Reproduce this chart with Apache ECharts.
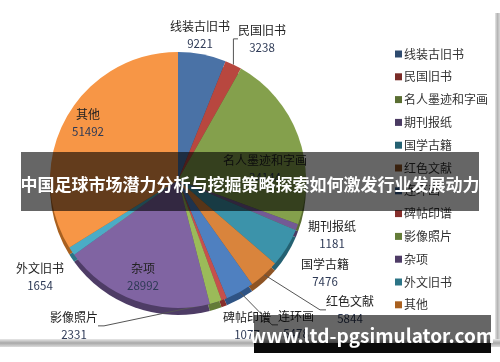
<!DOCTYPE html>
<html>
<head>
<meta charset="utf-8">
<script src="https://cdn.jsdelivr.net/npm/echarts@6/dist/echarts.min.js"></script>
<style>
html,body{margin:0;padding:0;background:#fff;}
#c{width:500px;height:362px;}
</style>
</head>
<body>
<div id="c"></div>
<script>
const categories = ['线装古旧书','民国旧书','名人墨迹和字画','期刊报纸','国学古籍','红色文献','连环画','碑帖印谱','影像照片','杂项','外文旧书','其他'];
const values = [9221, 3238, 34144, 1181, 7476, 5844, 5478, 1077, 2331, 28992, 1654, 51492];
const colors = ['#4A72A6','#B8473F','#84A04C','#735A95','#3C93AA','#D9843C','#4F80C0','#C6504C','#9BBB59','#8064A2','#4BACC6','#F79646'];
const sideColors = ['#2E4A6E','#7A2C28','#5A6E32','#4A3A62','#246172','#8E5424','#2F5384','#862F2C','#647C38','#4E3C66','#2C7486','#A9601F'];
const lineNames = ['民国旧书','红色文献','连环画','影像照片'];
const titleText = '中国足球市场潜力分析与挖掘策略探索如何激发行业发展动力';
const watermark = 'www.ltd-pgsimulator.com';

// layout (label block centres, Excel-style placement)
const labelPos = {
  '线装古旧书': [200, 35], '民国旧书': [262, 39], '名人墨迹和字画': [265, 169],
  '期刊报纸': [332, 235], '国学古籍': [325, 273], '红色文献': [350, 310],
  '连环画': [296, 325], '碑帖印谱': [247, 326], '影像照片': [74, 326],
  '杂项': [143, 277], '外文旧书': [40, 277], '其他': [88, 123]
};
const CX = 178, CY = 180, R = 128, DEPTH = 7;
const FONT = '"Noto Sans CJK SC", "Noto Sans", sans-serif';

const chart = echarts.init(document.getElementById('c'), null, {renderer:'canvas'});

const topData = categories.map((n, i) => ({
  name: n, value: values[i],
  itemStyle: {color: colors[i]},
  labelLine: {show: lineNames.includes(n)}
}));
const sideData = categories.map((n, i) => ({name: n, value: values[i], itemStyle: {color: sideColors[i]}}));

chart.setOption({
  animation: false,
  backgroundColor: '#fff',
  color: colors,
  legend: {
    orient: 'vertical',
    left: 390, top: 42,
    icon: 'rect', itemWidth: 7, itemHeight: 7,
    itemGap: 8.8,
    selectedMode: false,
    data: categories,
    textStyle: {fontFamily: FONT, fontSize: 12, color: '#333', lineHeight: 14, padding: [0,0,0,-3]}
  },
  series: [
    {
      type: 'pie', silent: true, z: 1,
      center: [CX, CY + DEPTH], radius: R,
      startAngle: 90, clockwise: true,
      label: {show: false}, labelLine: {show: false},
      itemStyle: {borderWidth: 0},
      data: sideData
    },
    {
      type: 'pie', z: 2,
      center: [CX, CY], radius: R,
      startAngle: 90, clockwise: true,
      avoidLabelOverlap: false,
      itemStyle: {borderWidth: 0},
      label: {
        position: 'outside',
        overflow: 'none',
        fontFamily: FONT,
        formatter: '{n|{b}}\n{v|{c}}',
        rich: {
          n: {fontFamily: FONT, fontSize: 12, color: '#222', lineHeight: 16.5, align: 'center'},
          v: {fontFamily: FONT, fontSize: 11.5, color: '#2E3A56', lineHeight: 16.5, align: 'center'}
        }
      },
      labelLine: {length: 6, length2: 6, lineStyle: {color: '#555', width: 1}},
      labelLayout: function (p) {
        const pos = labelPos[categories[p.dataIndex]];
        return {x: pos[0], y: pos[1], align: 'center', verticalAlign: 'middle', hideOverlap: false};
      },
      data: topData
    }
  ],
  graphic: [
    {type: 'rect', shape: {x: 495, y: 13, width: 5, height: 334}, style: {fill: new echarts.graphic.LinearGradient(0,0,1,0,[{offset:0,color:'#e6e6e6'},{offset:0.5,color:'#b5b5b5'},{offset:1,color:'#d8d8d8'}])}, z: 10},
    {type: 'rect', shape: {x: 0, y: 339, width: 500, height: 8}, style: {fill: new echarts.graphic.LinearGradient(0,0,0,1,[{offset:0,color:'#e8e8e8'},{offset:0.5,color:'#a8a8a8'},{offset:1,color:'#dcdcdc'}])}, z: 10},
    {type: 'rect', shape: {x: 21, y: 152, width: 458, height: 59}, style: {fill: 'rgba(0,0,0,0.6)'}, z: 20},
    {type: 'text', x: 250, y: 185, style: {text: titleText, fill: '#fff', font: 'bold 17px ' + FONT, align: 'center', verticalAlign: 'middle'}, z: 21},
    {type: 'rect', shape: {x: 254, y: 315, width: 237, height: 38}, style: {fill: 'rgba(0,0,0,0.6)'}, z: 20},
    {type: 'rect', shape: {x: 254, y: 343, width: 237, height: 10}, style: {fill: '#0a0a0a'}, z: 20},
    {type: 'text', x: 372, y: 336, style: {text: watermark, fill: '#fff', font: 'bold 19px ' + FONT, align: 'center', verticalAlign: 'middle'}, z: 21}
  ]
});
</script>
</body>
</html>
